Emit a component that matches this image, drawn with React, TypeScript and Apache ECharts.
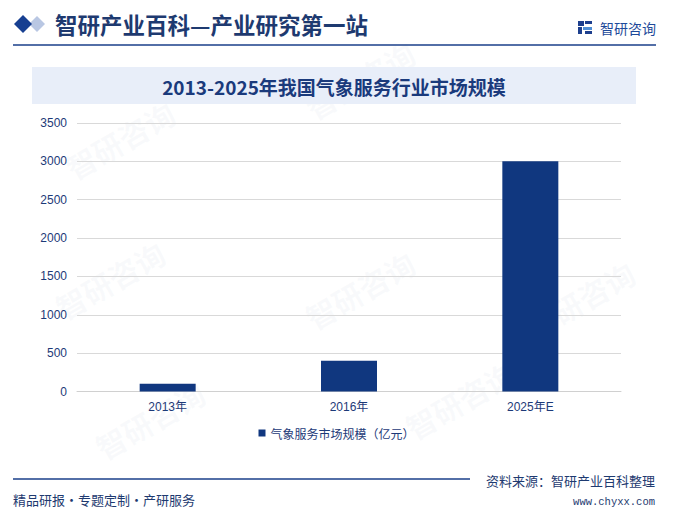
import React, { useEffect, useRef } from "react";
import * as echarts from "echarts";

const categories = ["2013年", "2016年", "2025年E"];
const marketSize = [100, 400, 3000];
const seriesName = "气象服务市场规模（亿元）";
const yTicks = { min: 0, max: 3500, interval: 500 };
const headerTitle = "智研产业百科—产业研究第一站";
const chartTitle = "2013-2025年我国气象服务行业市场规模";
const sourceText = "资料来源：智研产业百科整理";
const siteText = "www.chyxx.com";
const sloganText = "精品研报·专题定制·产研服务";
const logoText = "智研咨询";

const watermarkSpots = [
  [120, 140], [360, 80], [110, 280], [360, 290], [580, 300], [150, 420], [460, 400],
];

export default function App() {
  const ref = useRef<HTMLDivElement>(null);
  useEffect(() => {
    if (!ref.current) return;
    const chart = echarts.init(ref.current, null, { renderer: "svg" });
    const dark = "#1d3a78";
    const watermarks = watermarkSpots.map(([x, y]) => ({
      type: "text",
      x,
      y,
      rotation: Math.PI / 6,
      z: -10,
      silent: true,
      style: {
        text: "智研咨询",
        fill: "rgba(190,200,215,0.09)",
        font: "bold 30px 'Noto Sans CJK SC'",
        align: "center",
        verticalAlign: "middle",
      },
    }));
    chart.setOption({
      animation: false,
      backgroundColor: "#ffffff",
      grid: { left: 77, right: 52, top: 123, bottom: 122.5 },
      xAxis: {
        type: "category",
        data: categories,
        axisLine: { lineStyle: { color: "#d0d0d0", width: 1 } },
        axisTick: { show: false },
        axisLabel: { color: dark, fontSize: 12, margin: 9, fontFamily: "Liberation Sans, Noto Sans CJK SC" },
      },
      yAxis: {
        type: "value",
        min: yTicks.min,
        max: yTicks.max,
        interval: yTicks.interval,
        axisLine: { show: false },
        axisTick: { show: false },
        splitLine: { lineStyle: { color: "#d9d9d9" } },
        axisLabel: {
          color: dark,
          fontSize: 12,
          margin: 10,
          fontFamily: "Liberation Sans",
          formatter: (v: number) => String(v),
        },
      },
      legend: {
        data: [seriesName],
        bottom: 70,
        left: "center",
        itemWidth: 7,
        itemHeight: 7,
        icon: "rect",
        textStyle: { color: dark, fontSize: 12, fontFamily: "Noto Sans CJK SC" },
      },
      series: [
        {
          name: seriesName,
          type: "bar",
          data: marketSize,
          barWidth: 56,
          itemStyle: { color: "#10377f" },
        },
      ],
      graphic: [
        ...watermarks,
        {
          type: "polygon",
          shape: { points: [[37, 16], [45, 24], [37, 32], [29, 24]] },
          style: { fill: "#b9c7e3" },
        },
        {
          type: "polygon",
          shape: { points: [[23, 15], [32, 24], [23, 33], [14, 24]] },
          style: { fill: "#173f91" },
        },
        {
          type: "text",
          x: 55,
          y: 24,
          style: {
            text: headerTitle,
            fill: "#1e3a70",
            font: "bold 22.5px 'Noto Sans CJK SC'",
            verticalAlign: "middle",
          },
        },
        {
          type: "line",
          shape: { x1: 13, y1: 45, x2: 656, y2: 45 },
          style: { stroke: "#1a3f8a", lineWidth: 1.5 },
        },
        { type: "rect", shape: { x: 578, y: 21, width: 6, height: 5 }, style: { fill: "#1d3f8e" } },
        { type: "rect", shape: { x: 585, y: 21, width: 7, height: 3 }, style: { fill: "#1d3f8e" } },
        { type: "rect", shape: { x: 578, y: 27, width: 4, height: 7 }, style: { fill: "#1d3f8e" } },
        { type: "rect", shape: { x: 583, y: 27, width: 9, height: 3 }, style: { fill: "#4f8fd6" } },
        { type: "rect", shape: { x: 585, y: 31, width: 7, height: 3 }, style: { fill: "#1d3f8e" } },
        {
          type: "text",
          x: 600,
          y: 28,
          style: { text: logoText, fill: "#1e4a9a", font: "14px 'Noto Sans CJK SC'", verticalAlign: "middle" },
        },
        {
          type: "rect",
          shape: { x: 32, y: 67, width: 604, height: 37 },
          style: { fill: "#e8eef9" },
        },
        {
          type: "text",
          x: 334,
          y: 86,
          style: {
            text: chartTitle,
            fill: "#1a3a7c",
            font: "bold 19px 'Noto Sans CJK SC'",
            align: "center",
            verticalAlign: "middle",
          },
        },
        {
          type: "line",
          shape: { x1: 13, y1: 479, x2: 470, y2: 479 },
          style: { stroke: "#1a3f8a", lineWidth: 1.5 },
        },
        {
          type: "text",
          x: 655,
          y: 480,
          style: { text: sourceText, fill: "#1e3a70", font: "13px 'Noto Sans CJK SC'", align: "right", verticalAlign: "middle" },
        },
        {
          type: "text",
          x: 655,
          y: 502,
          style: { text: siteText, fill: "#1e3a70", font: "10.5px 'Liberation Mono'", align: "right", verticalAlign: "middle" },
        },
        {
          type: "text",
          x: 13,
          y: 499,
          style: { text: sloganText, fill: "#1e3a70", font: "13px 'Noto Sans CJK SC'", verticalAlign: "middle" },
        },
      ],
    });
    return () => chart.dispose();
  }, []);
  return (
    <div
      ref={ref}
      style={{ position: "fixed", left: 0, top: 0, width: 673, height: 514, background: "#fff" }}
    />
  );
}
